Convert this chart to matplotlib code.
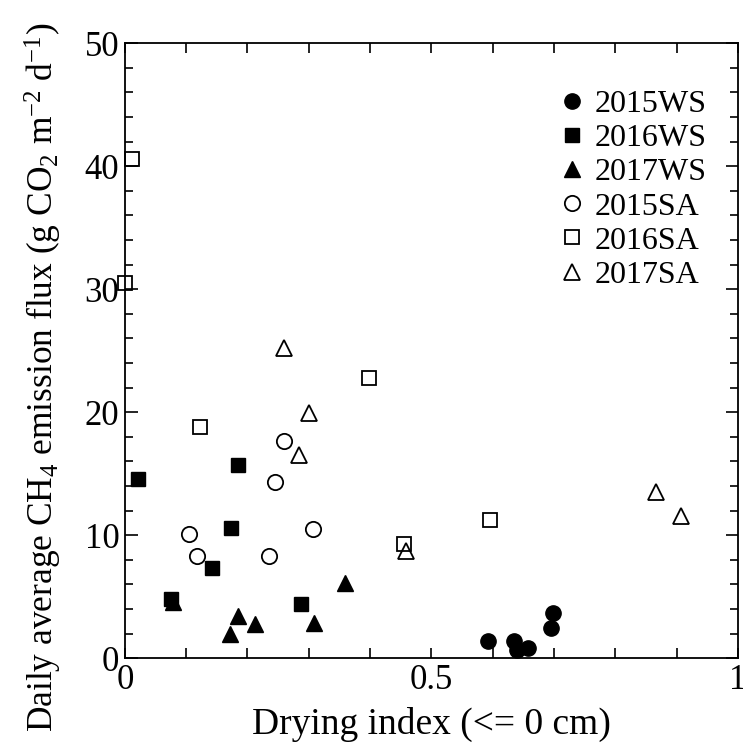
import matplotlib
matplotlib.use("Agg")
import matplotlib.pyplot as plt
from matplotlib.ticker import MultipleLocator

plt.rcParams['font.family'] = ['Liberation Serif', 'DejaVu Serif']
plt.rcParams['mathtext.fontset'] = 'custom'
plt.rcParams['mathtext.rm'] = 'Liberation Serif'
plt.rcParams['mathtext.it'] = 'Liberation Serif:italic'
plt.rcParams['mathtext.default'] = 'rm'

# drying index / daily CH4 flux
ws2015_x = [0.592, 0.635, 0.639, 0.658, 0.699, 0.696]
ws2015_y = [1.4, 1.4, 0.7, 0.87, 3.7, 2.5]

ws2016_x = [0.022, 0.184, 0.173, 0.143, 0.075, 0.287]
ws2016_y = [14.6, 15.7, 10.6, 7.3, 4.8, 4.4]

ws2017_x = [0.079, 0.184, 0.172, 0.213, 0.309, 0.359]
ws2017_y = [4.6, 3.4, 2.0, 2.8, 2.9, 6.1]

sa2015_x = [0.104, 0.117, 0.235, 0.245, 0.259, 0.307]
sa2015_y = [10.1, 8.3, 8.3, 14.3, 17.7, 10.5]

sa2016_x = [0.0, 0.012, 0.122, 0.398, 0.456, 0.596]
sa2016_y = [30.5, 40.6, 18.8, 22.75, 9.25, 11.26]

sa2017_x = [0.259, 0.300, 0.284, 0.459, 0.866, 0.908]
sa2017_y = [25.2, 19.9, 16.5, 8.7, 13.55, 11.55]

fig = plt.figure(figsize=(7.43, 7.43), dpi=100)
ax = fig.add_axes([0.168, 0.114, 0.825, 0.828])

ax.plot(ws2015_x, ws2015_y, 'o', color='black', ms=11, ls='none', label='2015WS', clip_on=False)
ax.plot(ws2016_x, ws2016_y, 's', color='black', ms=9.5, ls='none', label='2016WS', clip_on=False)
ax.plot(ws2017_x, ws2017_y, '^', color='black', ms=11, ls='none', label='2017WS', clip_on=False)
ax.plot(sa2015_x, sa2015_y, 'o', mfc='none', mec='black', mew=1.3, ms=11, ls='none', label='2015SA', clip_on=False)
ax.plot(sa2016_x, sa2016_y, 's', mfc='none', mec='black', mew=1.3, ms=9.5, ls='none', label='2016SA', clip_on=False)
ax.plot(sa2017_x, sa2017_y, '^', mfc='none', mec='black', mew=1.3, ms=11, ls='none', label='2017SA', clip_on=False)

ax.set_xlim(0, 1)
ax.set_ylim(0, 50)
ax.xaxis.set_minor_locator(MultipleLocator(0.1))
ax.yaxis.set_major_locator(MultipleLocator(10))
ax.yaxis.set_minor_locator(MultipleLocator(2))
ax.set_xticks([0, 0.5, 1])
ax.set_xticklabels(['0', '0.5', '1'])

ax.tick_params(which='both', direction='in', top=True, right=True, width=1.2, labelsize=25, pad=4)
ax.tick_params(axis='y', which='major', length=9)
ax.tick_params(axis='y', which='minor', length=6)
ax.tick_params(axis='x', which='both', length=7)
for s in ax.spines.values():
    s.set_linewidth(1.3)

ax.set_xlabel('Drying index (<= 0 cm)', fontsize=27, labelpad=7)
ax.set_ylabel('Daily average CH$_4$ emission flux (g CO$_2$ m$^{-2}$ d$^{-1}$)', fontsize=25.5)
ax.yaxis.set_label_coords(-0.10, 0.456)

ax.legend(loc='upper right', bbox_to_anchor=(0.97, 0.945), frameon=False, fontsize=23,
          handlelength=0.6, handletextpad=0.4, labelspacing=0.15, borderaxespad=0)

fig.savefig('out.png', dpi=100)
